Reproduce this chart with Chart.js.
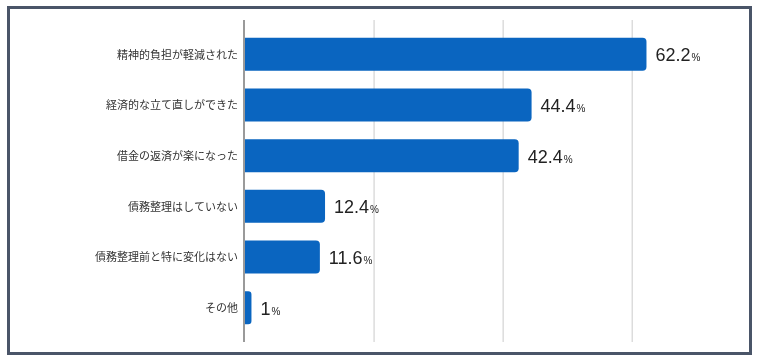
<!DOCTYPE html>
<html lang="ja">
<head>
<meta charset="utf-8">
<title>債務整理後の変化</title>
<script src="https://cdn.jsdelivr.net/npm/chart.js@4.4.1/dist/chart.umd.min.js"></script>
<style>
    html, body { margin: 0; padding: 0; background: #ffffff; }
    #wrap { position: relative; width: 760px; height: 360px; }
    #frame {
        position: absolute; left: 7px; top: 6px; width: 745px; height: 349px;
        box-sizing: border-box; border: 3px solid #4a5568; pointer-events: none;
    }
    canvas { position: absolute; left: 0; top: 0; }
</style>
</head>
<body>
<div id="wrap">
    <canvas id="chart" width="760" height="360"></canvas>
    <div id="frame"></div>
</div>
<script>
// --- data ---
const categories = [
    '精神的負担が軽減された',
    '経済的な立て直しができた',
    '借金の返済が楽になった',
    '債務整理はしていない',
    '債務整理前と特に変化はない',
    'その他'
];
const percentValues = [62.2, 44.4, 42.4, 12.4, 11.6, 1];
const gridValues = [0, 20, 40, 60];

document.addEventListener("DOMContentLoaded", function() {
    const COLORS = {
        bar: '#0a65c0',
        label: '#333333',
        value: '#222222',
        grid: '#dcdcdc',
        axis: '#9a9a9a'
    };
    const NUM_FONT = '"Liberation Sans", Arial, sans-serif';
    const JP_FONT = '"Noto Sans CJK JP", "Noto Sans", sans-serif';

    // gridlines run a little past the bar area, like the original
    const gridPlugin = {
        id: 'gridLines',
        beforeDatasetsDraw(chart) {
            const ctx = chart.ctx;
            const x = chart.scales.x;
            const top = chart.chartArea.top - 9;
            const bottom = chart.chartArea.bottom + 9;
            ctx.save();
            gridValues.forEach(v => {
                const px = x.getPixelForValue(v);
                ctx.beginPath();
                if (v === 0) {
                    ctx.strokeStyle = COLORS.axis;
                    ctx.lineWidth = 2;
                    ctx.moveTo(px - 1, top);
                    ctx.lineTo(px - 1, bottom);
                } else {
                    ctx.strokeStyle = COLORS.grid;
                    ctx.lineWidth = 1.5;
                    ctx.moveTo(px, top);
                    ctx.lineTo(px, bottom);
                }
                ctx.stroke();
            });
            ctx.restore();
        }
    };

    // "62.2%" style labels: big number, small percent sign
    const valueLabelPlugin = {
        id: 'valueLabels',
        afterDatasetsDraw(chart) {
            const ctx = chart.ctx;
            const meta = chart.getDatasetMeta(0);
            ctx.save();
            ctx.fillStyle = COLORS.value;
            ctx.textAlign = 'left';
            ctx.textBaseline = 'alphabetic';
            meta.data.forEach((bar, i) => {
                const txt = String(percentValues[i]);
                const x = bar.x + 9;
                const y = bar.y + 7;
                ctx.font = '18px ' + NUM_FONT;
                ctx.fillText(txt, x, y);
                const w = ctx.measureText(txt).width;
                ctx.font = '10px ' + NUM_FONT;
                ctx.fillText('%', x + w + 1, y);
            });
            ctx.restore();
        }
    };

    new Chart(document.getElementById('chart'), {
        type: 'bar',
        data: {
            labels: categories,
            datasets: [{
                data: percentValues,
                backgroundColor: COLORS.bar,
                borderRadius: { topLeft: 0, bottomLeft: 0, topRight: 4, bottomRight: 4 },
                borderSkipped: 'start',
                categoryPercentage: 1,
                barPercentage: 0.65
            }]
        },
        options: {
            indexAxis: 'y',
            responsive: false,
            animation: false,
            layout: { padding: { top: 29, bottom: 27, right: 18, left: 0 } },
            plugins: { legend: { display: false }, tooltip: { enabled: false } },
            scales: {
                x: {
                    display: false,
                    min: 0,
                    max: 77
                },
                y: {
                    grid: { display: false, drawTicks: false },
                    border: { display: false },
                    ticks: {
                        color: COLORS.label,
                        padding: 7,
                        font: { family: JP_FONT, size: 11 }
                    },
                    afterFit(scale) { scale.width = 245; }
                }
            }
        },
        plugins: [gridPlugin, valueLabelPlugin]
    });
});
</script>
</body>
</html>
